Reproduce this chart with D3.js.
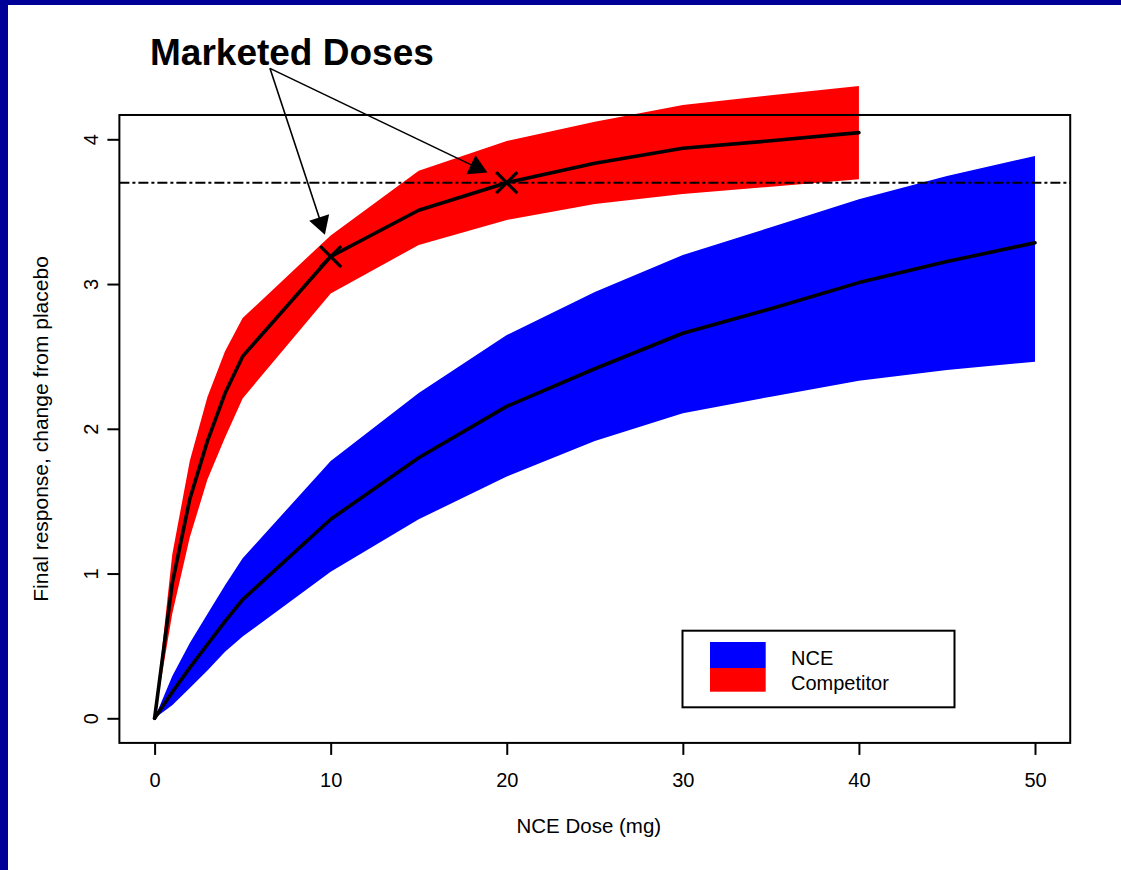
<!DOCTYPE html>
<html>
<head>
<meta charset="utf-8">
<script src="https://cdn.jsdelivr.net/npm/d3@7"></script>
<style>
  html, body { margin: 0; padding: 0; background: #fff; }
  svg { display: block; }
  text { font-family: "Liberation Sans", Arial, Helvetica, sans-serif; fill: #000; }
</style>
</head>
<body>
<svg id="chart" width="1121" height="870"></svg>
<script>
// ---------- data ----------
const nceDoses  = [0, 1, 2, 3, 4, 5, 10, 15, 20, 25, 30, 35, 40, 45, 50];
const nceMid    = [0, 0.18, 0.35, 0.51, 0.67, 0.82, 1.375, 1.80, 2.155, 2.415, 2.66, 2.83, 3.01, 3.155, 3.285];
const nceLow    = [0, 0.09, 0.21, 0.33, 0.46, 0.565, 1.013, 1.375, 1.67, 1.915, 2.107, 2.222, 2.332, 2.406, 2.464];
const nceHigh   = [0, 0.29, 0.52, 0.72, 0.92, 1.105, 1.778, 2.248, 2.648, 2.945, 3.20, 3.392, 3.585, 3.746, 3.885];

const compDoses = [0, 1, 2, 3, 4, 5, 10, 15, 20, 25, 30, 35, 40];
const compMid   = [0, 0.93, 1.515, 1.915, 2.245, 2.50, 3.19, 3.51, 3.70, 3.834, 3.938, 3.99, 4.046];
const compLow   = [0, 0.72, 1.25, 1.65, 1.94, 2.21, 2.935, 3.27, 3.443, 3.553, 3.622, 3.673, 3.724];
const compHigh  = [0, 1.13, 1.78, 2.22, 2.535, 2.765, 3.336, 3.783, 3.988, 4.122, 4.237, 4.305, 4.368];

const xTicks = [0, 10, 20, 30, 40, 50];
const yTicks = [0, 1, 2, 3, 4];
const refLevel = 3.7;
const markedDoses = [10, 20];
const markedValues = [3.19, 3.70];
const arrowTail = [6.55, 4.49];
const arrowTips = [[9.67, 3.34], [18.9, 3.77]];
const legendLabels = ["NCE", "Competitor"];
const legendColors = ["#0000ff", "#ff0000"];

// ---------- layout ----------
const svg = d3.select("#chart");
const W = 1121, H = 870;

svg.append("rect").attr("x", 0).attr("y", 0).attr("width", W).attr("height", H).attr("fill", "#000099");
svg.append("rect").attr("x", 8).attr("y", 5).attr("width", W - 8).attr("height", H - 5).attr("fill", "#ffffff");

const x = d3.scaleLinear().domain([0, 50]).range([154.6, 1035]);
const y = d3.scaleLinear().domain([0, 4]).range([718.3, 139.3]);
const xMin = -2, xMax = 52, yMin = -0.17, yMax = 4.168;

const g = svg.append("g");

// bands
function band(doses, lo, hi, color) {
  const pts = doses.map((d, i) => ({d, lo: lo[i], hi: hi[i]}));
  const area = d3.area().x(p => x(p.d)).y0(p => y(p.lo)).y1(p => y(p.hi));
  g.append("path").attr("d", area(pts)).attr("fill", color).attr("stroke", "none");
}
band(nceDoses, nceLow, nceHigh, "#0000ff");
band(compDoses, compLow, compHigh, "#ff0000");

// mid lines
function midLine(doses, vals) {
  const line = d3.line().x((d, i) => x(doses[i])).y((d, i) => y(vals[i]));
  g.append("path").attr("d", line(vals)).attr("fill", "none")
    .attr("stroke", "#000").attr("stroke-width", 3.6).attr("stroke-linejoin", "round").attr("stroke-linecap", "round");
}
midLine(nceDoses, nceMid);
midLine(compDoses, compMid);

// reference dash-dot line
g.append("line")
  .attr("x1", x(xMin)).attr("x2", x(xMax)).attr("y1", y(refLevel)).attr("y2", y(refLevel))
  .attr("stroke", "#000").attr("stroke-width", 1.8).attr("stroke-dasharray", "10,3,3,3");

// box
g.append("rect")
  .attr("x", x(xMin)).attr("y", y(yMax))
  .attr("width", x(xMax) - x(xMin)).attr("height", y(yMin) - y(yMax))
  .attr("fill", "none").attr("stroke", "#000").attr("stroke-width", 2);

// x axis
const xAxis = d3.axisBottom(x).tickValues(xTicks).tickSize(12).tickPadding(18).tickFormat(d3.format("d"));
const xg = g.append("g").attr("transform", `translate(0,${y(yMin)})`).call(xAxis);
xg.select(".domain").remove();
xg.selectAll(".tick line").attr("stroke", "#000").attr("stroke-width", 2);
xg.selectAll(".tick text").attr("font-size", 20).attr("font-family", "Liberation Sans, Arial, sans-serif")
  .attr("dy", null).attr("y", 44);

// y axis
const yAxis = d3.axisLeft(y).tickValues(yTicks).tickSize(12).tickFormat(d3.format("d"));
const yg = g.append("g").attr("transform", `translate(${x(xMin)},0)`).call(yAxis);
yg.select(".domain").remove();
yg.selectAll(".tick line").attr("stroke", "#000").attr("stroke-width", 2);
yg.selectAll(".tick text").attr("font-size", 20).attr("font-family", "Liberation Sans, Arial, sans-serif")
  .attr("x", null).attr("dy", null)
  .attr("text-anchor", "middle")
  .attr("transform", "translate(-21,0) rotate(-90)");

// axis titles
g.append("text").attr("x", (x(xMin) + x(xMax)) / 2 - 6).attr("y", 833)
  .attr("text-anchor", "middle").attr("font-size", 20.5).text("NCE Dose (mg)");
g.append("text").attr("transform", `translate(48,${(y(yMin) + y(yMax)) / 2}) rotate(-90)`)
  .attr("text-anchor", "middle").attr("font-size", 21).text("Final response, change from placebo");

// marked dose crosses
const s = 10.5;
markedDoses.forEach((d, i) => {
  const cx = x(d), cy = y(markedValues[i]);
  g.append("path")
    .attr("d", `M${cx - s},${cy - s}L${cx + s},${cy + s}M${cx - s},${cy + s}L${cx + s},${cy - s}`)
    .attr("stroke", "#000").attr("stroke-width", 3.2).attr("fill", "none");
});

// title
g.append("text").attr("x", 150).attr("y", 65).attr("font-size", 37).attr("font-weight", "bold")
  .text("Marketed Doses");

// arrows
const tx = x(arrowTail[0]), ty = y(arrowTail[1]);
arrowTips.forEach(t => {
  const hx = x(t[0]), hy = y(t[1]);
  const ang = Math.atan2(hy - ty, hx - tx);
  const L = 21, a = Math.PI / 6;
  g.append("line").attr("x1", tx).attr("y1", ty)
    .attr("x2", hx - Math.cos(ang) * 15).attr("y2", hy - Math.sin(ang) * 15)
    .attr("stroke", "#000").attr("stroke-width", 1.6);
  const p1 = [hx - L * Math.cos(ang - a), hy - L * Math.sin(ang - a)];
  const p2 = [hx - L * Math.cos(ang + a), hy - L * Math.sin(ang + a)];
  g.append("path").attr("d", `M${hx},${hy}L${p1[0]},${p1[1]}L${p2[0]},${p2[1]}Z`).attr("fill", "#000");
});

// legend
const lg = g.append("g");
lg.append("rect").attr("x", 682.5).attr("y", 630.7).attr("width", 272).attr("height", 76.6)
  .attr("fill", "#fff").attr("stroke", "#000").attr("stroke-width", 2);
legendLabels.forEach((lab, i) => {
  const top = i === 0 ? 642 : 668;
  const h = i === 0 ? 26 : 23.7;
  lg.append("rect").attr("x", 710).attr("y", top).attr("width", 55.7).attr("height", h).attr("fill", legendColors[i]);
  lg.append("text").attr("x", 791).attr("y", i === 0 ? 665 : 690).attr("font-size", 20).text(lab);
});
</script>
</body>
</html>
